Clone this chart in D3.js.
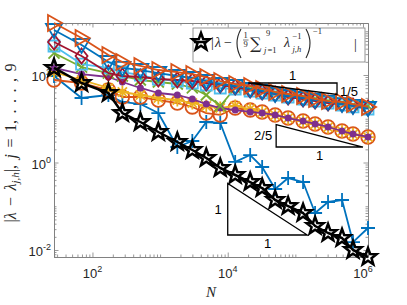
<!DOCTYPE html>
<html>
<head>
<meta charset="utf-8">
<script src="https://cdn.jsdelivr.net/npm/d3@7"></script>
<style>
  body { margin: 0; background: #fff; }
  svg { display: block; }
</style>
</head>
<body>
<svg id="chart" width="407" height="305"></svg>
<script>
// number of degrees of freedom N for every refinement step
const dofs = [27, 69, 172, 277, 511, 942, 1798, 2995, 4817, 7752, 12900, 21480, 32290,
  50240, 78160, 130000, 195700, 304300, 489700, 711500, 1186000];

// |lambda - lambda_{j,h}|, j = 1..9
const errJ1 = [94.9, 29.8, 34.9, 24.2, 21.7, 13.5, 2.26, 3.10, 8.43, 8.00, 1.03, 1.48, 0.789,
  0.248, 0.442, 0.358, 0.0701, 0.125, 0.139, 0.0152, 0.0318];
const errJ2 = [76.9, 65.6, 45.4, 31.4, 31.4, 26.8, 22.9, 18.6, 13.5, 12.2, 17.6, 15.8, 14.3,
  12.2, 10.4, 8.88, 7.59, 6.48, 5.25, 4.48, 3.83];
const errJ3 = [117, 76.9, 50.5, 40.9, 34.9, 29.8, 26.8, 22.9, 19.6, 17.6, 19.6, 16.7, 14.0,
  12.0, 10.3, 8.8, 7.5, 6.4, 5.2, 4.4, 3.8];
const errJ4 = [145, 105, 90.0, 69.2, 50.5, 38.8, 34.9, 28.3, 21.7, 17.6, 15.8, 14.3, 13.5,
  12.2, 10.4, 8.88, 7.59, 6.48, 5.25, 4.48, 3.83];
const errJ5 = [318, 152, 111, 94.9, 76.9, 69.2, 62.3, 50.5, 34.9, 19.6, 50.5, 47.9, 43.1,
  38.8, 34.9, 31.4, 28.3, 25.4, 22.9, 20.6, 19.6];
const errJ6 = [460, 178, 145, 117, 100, 81.0, 72.9, 65.6, 59.1, 50.5, 47.9, 43.1, 38.8,
  34.9, 31.4, 28.3, 25.4, 22.9, 20.6, 18.6, 16.7];
const errJ7 = [568, 272, 111, 94.9, 90.0, 81.0, 76.9, 72.9, 65.6, 59.1, 53.2, 45.4, 40.9,
  36.8, 31.4, 28.3, 25.4, 22.9, 21.7, 19.6, 17.6];
const errJ8 = [1068, 485, 198, 145, 130, 111, 94.9, 85.4, 72.9, 62.3, 56.1, 47.9, 43.1,
  36.8, 33.1, 29.8, 26.8, 24.2, 21.7, 19.6, 17.6];
const errJ9 = [1544, 701, 286, 198, 161, 130, 117, 105, 90.0, 72.9, 62.3, 56.1, 47.9,
  40.9, 36.8, 33.1, 28.3, 25.4, 24.2, 21.7, 18.6];

// |lambda - (1/9 sum lambda_{j,h}^{-1})^{-1}|
const errMean = [145, 65.6, 38.8, 13.5, 8.43, 4.98, 2.94, 1.93, 1.27, 0.749, 0.518, 0.358,
  0.261, 0.139, 0.101, 0.0701, 0.0354, 0.0245, 0.0188, 0.0100, 0.00692];

const xTickLabels = [2, 4, 6];   // exponents of 10
const yTickLabels = [2, 0, -2];

const seriesValues = [errJ1, errJ2, errJ3, errJ4, errJ5, errJ6, errJ7, errJ8, errJ9];
const seriesColors = ['#0072BD', '#D95319', '#EDB120', '#7E2F8E', '#77AC30', '#4DBEEE',
  '#A2142F', '#0072BD', '#D95319'];
const seriesMarkers = ['+', 'o', '*', '.', 'x', 's', 'd', 'v', '>'];

const plot = { left: 54, right: 368, top: 23, bottom: 257 };
const svg = d3.select('#chart');

const x = d3.scaleLog().domain(d3.extent(dofs)).range([plot.left, plot.right]);
const y = d3.scaleLog()
  .domain(d3.extent(seriesValues.flat().concat(errMean)))
  .range([plot.bottom, plot.top]);

const axisColor = '#808080';
const textColor = '#262626';
const sansFont = '"Liberation Sans", Arial, sans-serif';
const serifFont = '"Liberation Serif", "DejaVu Serif", serif';

// ---- axes (drawn under the data, like MATLAB's default layer) ----
function minorTicks(scale) {
  const [a, b] = scale.domain();
  const out = [];
  for (let k = Math.floor(Math.log10(a)); k <= Math.ceil(Math.log10(b)); k++) {
    for (let m = 1; m <= 9; m++) {
      const v = m * Math.pow(10, k);
      if (v >= a && v <= b) out.push(v);
    }
  }
  return out;
}
const xMajor = xTickLabels.map(e => Math.pow(10, e));
const yMajor = yTickLabels.map(e => Math.pow(10, e));
const xMinor = minorTicks(x).filter(v => !xMajor.includes(v));
const yMinor = minorTicks(y).filter(v => !yMajor.includes(v));

function drawAxis(axisFn, scale, transform, major, minor) {
  const gMinor = svg.append('g').attr('transform', transform)
    .call(axisFn(scale).tickValues(minor).tickSize(-2.5).tickSizeOuter(0).tickFormat(''));
  const gMajor = svg.append('g').attr('transform', transform)
    .call(axisFn(scale).tickValues(major).tickSize(-4.5).tickSizeOuter(0).tickFormat(''));
  [gMinor, gMajor].forEach(g => {
    g.selectAll('path.domain').attr('stroke', axisColor).attr('stroke-width', 0.9);
    g.selectAll('.tick line').attr('stroke', axisColor).attr('stroke-width', 0.8);
  });
}

svg.append('rect')
  .attr('x', plot.left).attr('y', plot.top)
  .attr('width', plot.right - plot.left).attr('height', plot.bottom - plot.top)
  .attr('fill', '#fff');

drawAxis(d3.axisBottom, x, `translate(0,${plot.bottom})`, xMajor, xMinor);
drawAxis(d3.axisTop, x, `translate(0,${plot.top})`, xMajor, xMinor);
drawAxis(d3.axisLeft, y, `translate(${plot.left},0)`, yMajor, yMinor);
drawAxis(d3.axisRight, y, `translate(${plot.right},0)`, yMajor, yMinor);

// tick labels with superscript exponents
xTickLabels.forEach(e => {
  const t = svg.append('text')
    .attr('x', x(Math.pow(10, e))).attr('y', plot.bottom + 21)
    .attr('text-anchor', 'middle')
    .attr('font-family', sansFont).attr('font-size', 13).attr('fill', textColor);
  t.append('tspan').text('10');
  t.append('tspan').attr('dy', -6).attr('font-size', 9).text(e);
});
yTickLabels.forEach(e => {
  const t = svg.append('text')
    .attr('x', plot.left - 3).attr('y', y(Math.pow(10, e)) + 6)
    .attr('text-anchor', 'end')
    .attr('font-family', sansFont).attr('font-size', 13).attr('fill', textColor);
  t.append('tspan').text('10');
  t.append('tspan').attr('dy', -6).attr('font-size', 9).text(e < 0 ? '-' + (-e) : e);
});

// axis titles
svg.append('text')
  .attr('x', (plot.left + plot.right) / 2).attr('y', 297)
  .attr('text-anchor', 'middle')
  .attr('font-family', serifFont).attr('font-style', 'italic')
  .attr('font-size', 15).attr('fill', textColor)
  .text('N');

const yTitle = svg.append('text')
  .attr('transform', `translate(16,${(plot.top + plot.bottom) / 2 + 3}) rotate(-90)`)
  .attr('text-anchor', 'middle')
  .attr('font-family', serifFont).attr('font-size', 16).attr('fill', textColor)
  .attr('word-spacing', 2.5);
yTitle.append('tspan').text('|');
yTitle.append('tspan').attr('font-style', 'italic').text('λ');
yTitle.append('tspan').text(' − ');
yTitle.append('tspan').attr('font-style', 'italic').text('λ');
yTitle.append('tspan').attr('font-style', 'italic').attr('font-size', 11).attr('dy', 3).text('j,h');
yTitle.append('tspan').attr('dy', -3).text('|,  ');
yTitle.append('tspan').attr('font-style', 'italic').text('j');
yTitle.append('tspan').text(' = 1, . . . , 9');

// ---- markers ----
function markerPath(type) {
  switch (type) {
    case '+': return 'M-7,0H7M0,-7V7';
    case 'x': return 'M-5.5,-5.5L5.5,5.5M-5.5,5.5L5.5,-5.5';
    case '*': return 'M-6.5,0H6.5M0,-6.5V6.5M-4.6,-4.6L4.6,4.6M-4.6,4.6L4.6,-4.6';
    case 'o': return 'M6.8,0A6.8,6.8 0 1 1 -6.8,0A6.8,6.8 0 1 1 6.8,0Z';
    case '.': return 'M2.6,0A2.6,2.6 0 1 1 -2.6,0A2.6,2.6 0 1 1 2.6,0Z';
    case 's': return 'M-5.5,-5.5H5.5V5.5H-5.5Z';
    case 'd': return 'M0,-7.5L6,0L0,7.5L-6,0Z';
    case 'v': return 'M-8,-6L8,-6L0,8Z';
    case '>': return 'M-6,-8L-6,8L8,0Z';
    case 'p': {
      const pts = d3.range(10).map(k => {
        const a = -Math.PI / 2 + k * Math.PI / 5;
        const r = k % 2 === 0 ? 9 : 3.7;
        return [r * Math.cos(a), r * Math.sin(a)];
      });
      return 'M' + pts.map(p => p[0].toFixed(2) + ',' + p[1].toFixed(2)).join('L') + 'Z';
    }
  }
}

const line = d3.line()
  .x((d, i) => x(dofs[i]))
  .y(d => y(d));

function drawSeries(values, color, marker, lw) {
  const g = svg.append('g');
  g.append('path')
    .attr('d', line(values))
    .attr('fill', 'none')
    .attr('stroke', color)
    .attr('stroke-width', lw)
    .attr('stroke-linejoin', 'round');
  g.selectAll('path.mk')
    .data(values)
    .enter().append('path')
    .attr('class', 'mk')
    .attr('d', markerPath(marker))
    .attr('transform', (d, i) => `translate(${x(dofs[i])},${y(d)})`)
    .attr('fill', marker === '.' ? color : 'none')
    .attr('stroke', color)
    .attr('stroke-width', lw)
    .attr('stroke-linejoin', 'miter');
}

seriesValues.forEach((vals, i) => drawSeries(vals, seriesColors[i], seriesMarkers[i], 1.8));
drawSeries(errMean, '#000', 'p', 2.5);

// ---- slope triangles ----
const triStyle = g => g.attr('fill', 'none').attr('stroke', '#000').attr('stroke-width', 1.3);
function label(px, py, txt, anchor) {
  svg.append('text').attr('x', px).attr('y', py)
    .attr('text-anchor', anchor || 'middle')
    .attr('font-family', sansFont).attr('font-size', 13).attr('fill', '#000')
    .text(txt);
}

// slope 1/5: horizontal top, vertical right side
{
  const x0 = 2.01e4, x1 = 4.13e5, yTop = 65.6;
  const yBot = yTop * Math.pow(x1 / x0, -1 / 5);
  svg.append('path').call(triStyle)
    .attr('d', `M${x(x0)},${y(yTop)}L${x(x1)},${y(yTop)}L${x(x1)},${y(yBot)}Z`);
  label((x(x0) + x(x1)) / 2, y(yTop) - 3, '1');
  label(x(x1) + 3, y(yBot) + 1, '1/5', 'start');
}
// slope 2/5: vertical left, horizontal bottom
{
  const x0 = 5.2e4, x1 = 1.0e6, yBot = 2.26;
  const yTop = yBot * Math.pow(x1 / x0, 2 / 5);
  svg.append('path').call(triStyle)
    .attr('d', `M${x(x0)},${y(yTop)}L${x(x0)},${y(yBot)}L${x(x1)},${y(yBot)}Z`);
  label(x(x0) - 4, (y(yTop) + y(yBot)) / 2 + 4.5, '2/5', 'end');
  label((x(x0) + x(x1)) / 2, y(yBot) + 13, '1');
}
// slope 1: vertical left, horizontal bottom
{
  const x0 = 1.0e4, x1 = 1.5e5, yBot = 0.022;
  const yTop = yBot * (x1 / x0);
  svg.append('path').call(triStyle)
    .attr('d', `M${x(x0)},${y(yTop)}L${x(x0)},${y(yBot)}L${x(x1)},${y(yBot)}Z`);
  label(x(x0) - 6, (y(yTop) + y(yBot)) / 2 + 5, '1', 'end');
  label((x(x0) + x(x1)) / 2, y(yBot) + 13, '1');
}

// ---- legend ----
const lg = svg.append('g');
lg.append('rect')
  .attr('x', 193).attr('y', 28).attr('width', 172).attr('height', 34)
  .attr('fill', '#fff').attr('stroke', '#7a7a7a').attr('stroke-width', 0.8);
lg.append('line').attr('x1', 194).attr('x2', 207).attr('y1', 42).attr('y2', 42)
  .attr('stroke', '#000').attr('stroke-width', 2.5);
lg.append('path').attr('d', markerPath('p')).attr('transform', 'translate(201,42)')
  .attr('fill', 'none').attr('stroke', '#000').attr('stroke-width', 2.5);

function mathText(px, py, txt, size, italic, anchor, family) {
  lg.append('text').attr('x', px).attr('y', py)
    .attr('text-anchor', anchor || 'start')
    .attr('font-family', family || serifFont)
    .attr('font-style', italic ? 'italic' : 'normal')
    .attr('font-size', size).attr('fill', textColor)
    .text(txt);
}
mathText(211, 47, '|', 14);
mathText(215, 47, 'λ', 14, true);
mathText(224, 47, '−', 14);
lg.append('path').attr('d', 'M241,29Q233,43 241,58').attr('fill', 'none')
  .attr('stroke', textColor).attr('stroke-width', 1.1);
mathText(245.5, 37.5, '1', 8.5, false, 'middle');
lg.append('line').attr('x1', 243).attr('x2', 248.5).attr('y1', 40).attr('y2', 40)
  .attr('stroke', textColor).attr('stroke-width', 0.6);
mathText(245.5, 47, '9', 8.5, false, 'middle');
mathText(250, 49, '∑', 16, false, 'start', '"DejaVu Serif", serif');
mathText(266, 36, '9', 8.5);
mathText(264, 53, 'j', 8.5, true);
mathText(267.5, 53, '=1', 8.5);
mathText(284, 47, 'λ', 14, true);
mathText(292.5, 39, '−1', 8.5);
mathText(292.5, 52, 'j,h', 8.5, true);
lg.append('path').attr('d', 'M306,29Q314,43 306,58').attr('fill', 'none')
  .attr('stroke', textColor).attr('stroke-width', 1.1);
mathText(313, 34, '−1', 8.5);
mathText(354, 49, '|', 14);
</script>
</body>
</html>
